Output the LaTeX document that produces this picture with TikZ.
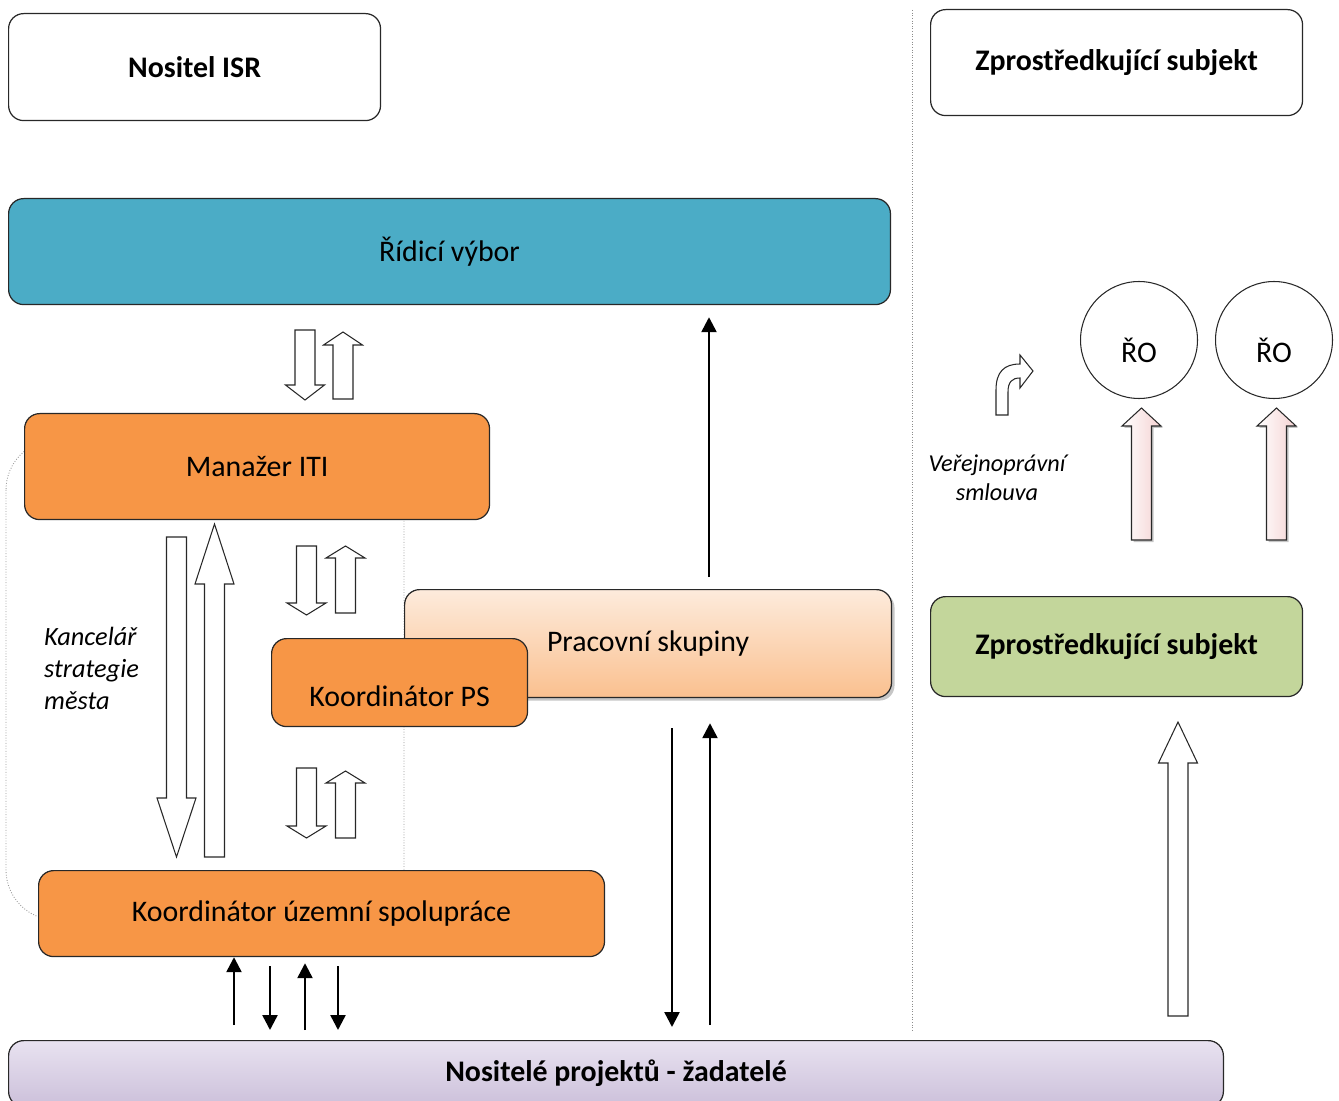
\documentclass[tikz,border=0pt]{standalone}
\usepackage{fontspec}
\setmainfont{Carlito}
\usetikzlibrary{arrows.meta, positioning, shadows}
\definecolor{tyrkys}{RGB}{75,172,198}
\definecolor{oranzova}{RGB}{247,150,70}
\definecolor{zelena}{RGB}{195,214,155}
\definecolor{broskev}{RGB}{253,235,220}
\definecolor{broskevTm}{RGB}{250,192,143}
\definecolor{levandule}{RGB}{232,226,240}
\definecolor{levanduleTm}{RGB}{204,192,218}
\definecolor{ruzova}{RGB}{245,210,210}
\definecolor{okraj}{RGB}{40,40,40}
\tikzset{
  box/.style={
    draw=okraj, line width=0.7pt, rounded corners=0.3cm, anchor=north west,
    inner sep=2pt, align=center, font=\fontsize{17}{20}\selectfont
  },
  boxW/.style={box, fill=white, font=\fontsize{17}{20}\selectfont\bfseries},
  boxRV/.style={box, fill=tyrkys},
  boxO/.style={box, fill=oranzova},
  boxPS/.style={box, top color=broskev, bottom color=broskevTm,
    drop shadow={shadow xshift=0.06cm, shadow yshift=-0.06cm, opacity=0.45}},
  boxZS/.style={box, fill=zelena, font=\fontsize{17}{20}\selectfont\bfseries},
  boxNP/.style={box, top color=levandule, bottom color=levanduleTm,
    font=\fontsize{17}{20}\selectfont\bfseries},
  kruh/.style={draw=okraj, line width=0.6pt, circle, minimum size=2.34cm,
    inner sep=0pt, text height=1.0cm, text depth=0.1cm,
    font=\fontsize{17}{20}\selectfont},
  seta/.style={-{Triangle[length=0.3cm, width=0.3cm]}, line width=1.4pt},
  blok/.style={draw=okraj, line width=0.6pt, fill=white, line join=miter},
  blokR/.style={blok, left color=white, right color=ruzova,
    drop shadow={shadow xshift=0.04cm, shadow yshift=-0.04cm, opacity=0.45}},
  skupina/.style={draw=gray!80, line width=0.5pt, densely dotted, rounded corners=1cm},
  oddelovac/.style={draw=gray!90, line width=0.5pt, densely dotted},
  popis/.style={font=\fontsize{15}{18.2}\selectfont\itshape, align=left},
}
% blokove sipky: x, vrchol, konec, delka hlavy
\newcommand{\blokDolu}[5][blok]{%
  \path[#1] (#2-10,#3) -- (#2+10,#3) -- (#2+10,#4-#5) -- (#2+19.5,#4-#5)
    -- (#2,#4) -- (#2-19.5,#4-#5) -- (#2-10,#4-#5) -- cycle;}
\newcommand{\blokNahoru}[5][blok]{%
  \path[#1] (#2-10,#4) -- (#2+10,#4) -- (#2+10,#3+#5) -- (#2+19.5,#3+#5)
    -- (#2,#3) -- (#2-19.5,#3+#5) -- (#2-10,#3+#5) -- cycle;}

\begin{document}
\begin{tikzpicture}[x=0.02cm, y=-0.02cm]
  \useasboundingbox (0,0) rectangle (1339,1101);
  \clip (0,0) rectangle (1339,1101);

  % skupina Kancelar strategie mesta
  \draw[skupina] (6,440) rectangle (404,920);
  \draw[oddelovac] (912,10) -- (912,1030);

  \node[boxW, minimum width=7.44cm, minimum height=2.14cm] (isr) at (8,13) {Nositel ISR};
  \node[boxW, minimum width=7.44cm, minimum height=2.12cm] (zsT) at (930,9) {Zprostředkující subjekt};

  \node[boxRV, minimum width=17.64cm, minimum height=2.12cm] (rv) at (8,198) {Řídicí výbor};
  \node[boxO, minimum width=9.3cm, minimum height=2.12cm] (mi) at (24,413) {Manažer ITI};

  \node[boxPS, minimum width=9.74cm, minimum height=2.16cm] (ps) at (404,589) {Pracovní skupiny};
  \node[boxO, minimum width=5.12cm, minimum height=1.76cm, text height=1.08cm, text depth=0.12cm]
    (kps) at (271,638) {Koordinátor PS};

  \node[boxO, minimum width=11.32cm, minimum height=1.72cm] (ku) at (38,870) {Koordinátor územní spolupráce};
  \node[boxZS, minimum width=7.44cm, minimum height=2.0cm] (zs) at (930,596) {Zprostředkující subjekt};
  \node[boxNP, minimum width=24.3cm, minimum height=1.32cm] (np) at (8,1040) {Nositelé projektů - žadatelé};

  \node[kruh] (ro1) at (1139,340) {ŘO};
  \node[kruh] (ro2) at (1274,340) {ŘO};

  \node[popis, anchor=west] (ksm) at (38,668) {Kancelář\\strategie\\města};
  \node[popis, align=center, font=\fontsize{13.8}{16.5}\selectfont\itshape] (vps) at (997,478)
    {Veřejnoprávní\\smlouva};

  % blokove sipky
  \blokDolu{305}{330}{400}{15}
  \blokNahoru{343}{332}{399}{13}
  \blokDolu{176.5}{537}{857}{59}
  \blokNahoru{214.5}{524}{857}{60}
  \blokDolu{306.5}{546}{615}{12}
  \blokNahoru{345.5}{546}{613}{12}
  \blokDolu{306.5}{768}{838}{12}
  \blokNahoru{345.5}{771}{838}{12}
  \blokNahoru[blokR]{1141.5}{408}{540}{18}
  \blokNahoru[blokR]{1276.5}{408}{540}{18}
  \blokNahoru{1178}{722}{1016}{41}

  % zahnuta sipka
  \path[blok] (996,415) -- (996,390) .. controls (996,372) and (1004,364) .. (1020,364)
    -- (1020,355) -- (1033,371) -- (1020,388) -- (1020,378)
    .. controls (1012,378) and (1008,382) .. (1008,392) -- (1008,415) -- cycle;

  % tenke sipky
  \coordinate (x1) at (234,0);
  \coordinate (x2) at (270,0);
  \coordinate (x3) at (305,0);
  \coordinate (x4) at (338,0);
  \coordinate (x5) at (672,0);
  \coordinate (x6) at (710,0);
  \coordinate (x7) at (709,0);

  \draw[seta, shorten <=0.24cm, shorten >=0.24cm] (ps.north -| x7) -- (rv.south -| x7);
  \draw[seta, shorten <=0.3cm] (np.north -| x1) -- (ku.south -| x1);
  \draw[seta, shorten <=0.18cm, shorten >=0.2cm] (ku.south -| x2) -- (np.north -| x2);
  \draw[seta, shorten <=0.2cm, shorten >=0.12cm] (np.north -| x3) -- (ku.south -| x3);
  \draw[seta, shorten <=0.18cm, shorten >=0.2cm] (ku.south -| x4) -- (np.north -| x4);
  \draw[seta, shorten <=0.6cm, shorten >=0.26cm] (ps.south -| x5) -- (np.north -| x5);
  \draw[seta, shorten <=0.3cm, shorten >=0.5cm] (np.north -| x6) -- (ps.south -| x6);
\end{tikzpicture}
\end{document}
